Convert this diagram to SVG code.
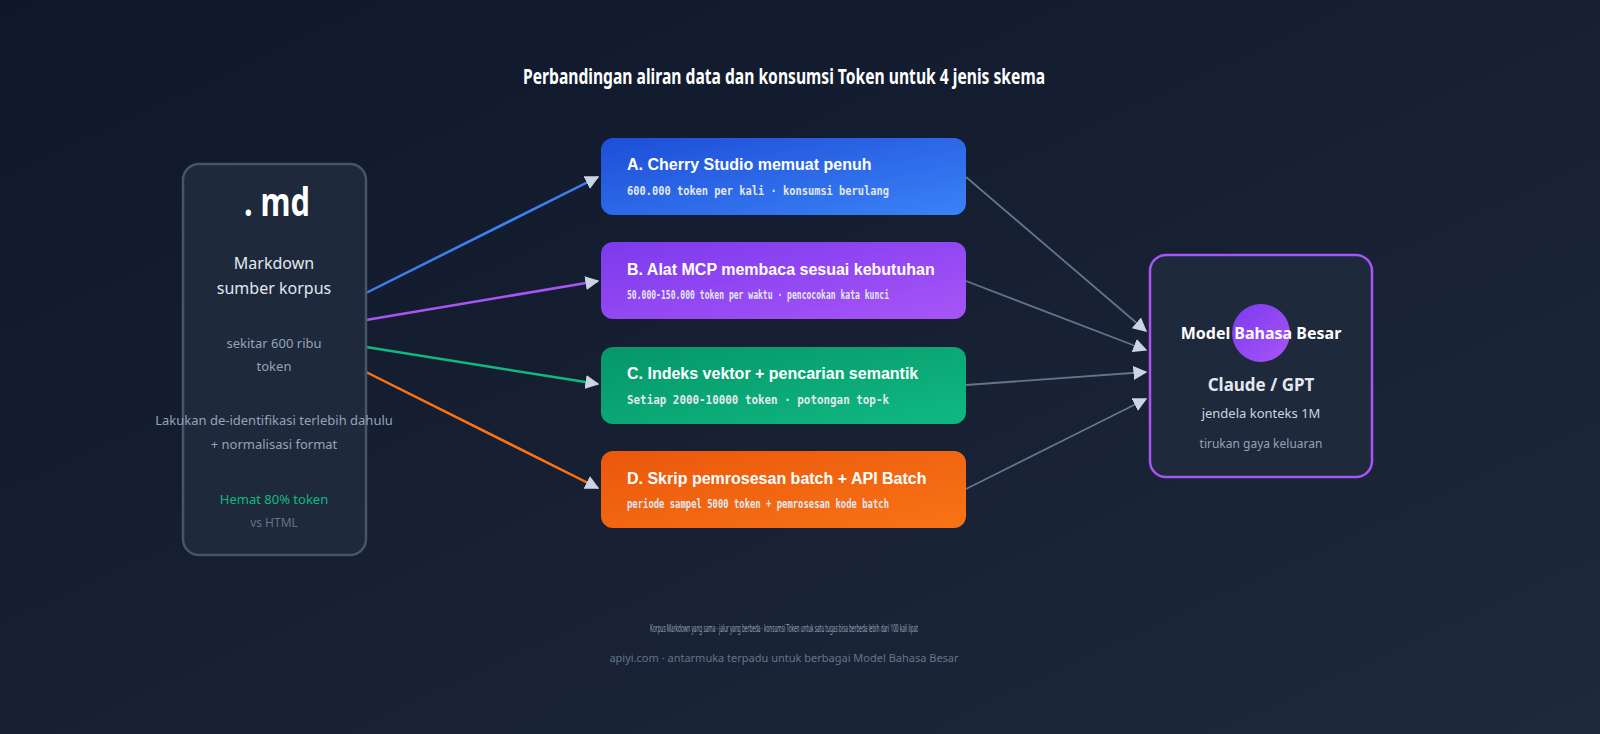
<svg xmlns="http://www.w3.org/2000/svg" width="1600" height="734" viewBox="0 0 1600 734">
<defs>
<linearGradient id="bg" x1="0" y1="0" x2="1" y2="1"><stop offset="0" stop-color="#0f172a"/><stop offset="1" stop-color="#1e293b"/></linearGradient>
<linearGradient id="ga" x1="0" y1="0" x2="1" y2="1"><stop offset="0" stop-color="#1d4ed8"/><stop offset="1" stop-color="#3b82f6"/></linearGradient>
<linearGradient id="gb" x1="0" y1="0" x2="1" y2="1"><stop offset="0" stop-color="#7c3aed"/><stop offset="1" stop-color="#a855f7"/></linearGradient>
<linearGradient id="gc" x1="0" y1="0" x2="1" y2="1"><stop offset="0" stop-color="#059669"/><stop offset="1" stop-color="#10b981"/></linearGradient>
<linearGradient id="gd" x1="0" y1="0" x2="1" y2="1"><stop offset="0" stop-color="#ea580c"/><stop offset="1" stop-color="#f97316"/></linearGradient>
<linearGradient id="gp" x1="0" y1="0" x2="1" y2="1"><stop offset="0" stop-color="#7c3aed"/><stop offset="1" stop-color="#a855f7"/></linearGradient>
<marker id="ah2" viewBox="0 0 10 10" refX="9" refY="5" markerWidth="14" markerHeight="14" orient="auto" markerUnits="userSpaceOnUse"><path d="M0,0 L10,5 L0,10 z" fill="#cbd5e1"/></marker>
</defs>
<style>
text{font-family:"Noto Sans","Liberation Sans",sans-serif}
.bt{font-family:"Liberation Sans",sans-serif;font-weight:bold;font-size:16px;fill:#fff}
.mono{font-family:"DejaVu Sans Mono","Liberation Mono",monospace;font-size:12px;font-weight:bold;fill:#e2e8f0}
.c{text-anchor:middle}
</style>
<rect width="1600" height="734" fill="url(#bg)"/>
<text x="784" y="84" class="c" font-family="Liberation Sans" font-weight="bold" font-size="22" fill="#fff" textLength="522" lengthAdjust="spacingAndGlyphs">Perbandingan aliran data dan konsumsi Token untuk 4 jenis skema</text>
<g id="connectors" fill="none" stroke-width="2.5">
<line x1="366" y1="293" x2="598" y2="177" stroke="#3b82f6" marker-end="url(#ah2)"/>
<line x1="366" y1="320" x2="598" y2="281" stroke="#a855f7" marker-end="url(#ah2)"/>
<line x1="366" y1="347" x2="598" y2="384" stroke="#10b981" marker-end="url(#ah2)"/>
<line x1="366" y1="372" x2="598" y2="488" stroke="#f97316" marker-end="url(#ah2)"/>
<g stroke="#64748b" stroke-width="1.8">
<line x1="966" y1="177" x2="1146" y2="331" marker-end="url(#ah2)"/>
<line x1="966" y1="281" x2="1146" y2="350" marker-end="url(#ah2)"/>
<line x1="966" y1="385" x2="1146" y2="372" marker-end="url(#ah2)"/>
<line x1="966" y1="489" x2="1146" y2="399" marker-end="url(#ah2)"/>
</g>
</g>
<g id="source">
<rect x="183" y="164" width="183" height="391" rx="16" fill="#1e293b" stroke="#475569" stroke-width="2.5"/>
<text x="277" y="216" class="c" font-family="Liberation Sans" font-weight="bold" font-size="40" fill="#fff" textLength="66" lengthAdjust="spacingAndGlyphs">. md</text>
<text x="274" y="269" class="c" font-size="16" fill="#e2e8f0">Markdown</text>
<text x="274" y="294" class="c" font-size="16" fill="#e2e8f0">sumber korpus</text>
<text x="274" y="348" class="c" font-size="13" fill="#94a3b8">sekitar 600 ribu</text>
<text x="274" y="371" class="c" font-size="13" fill="#94a3b8">token</text>
<text x="274" y="425" class="c" font-size="13" fill="#94a3b8">Lakukan de-identifikasi terlebih dahulu</text>
<text x="274" y="449" class="c" font-size="13" fill="#94a3b8">+ normalisasi format</text>
<text x="274" y="504" class="c" font-size="13" fill="#10b981">Hemat 80% token</text>
<text x="274" y="527" class="c" font-size="12" fill="#64748b">vs HTML</text>
</g>
<g id="nodeA"><rect x="601" y="138" width="365" height="77" rx="12" fill="url(#ga)"/>
<text x="627" y="170" class="bt">A. Cherry Studio memuat penuh</text>
<text x="627" y="195" class="mono" textLength="262" lengthAdjust="spacingAndGlyphs">600.000 token per kali · konsumsi berulang</text></g>
<g id="nodeB"><rect x="601" y="242" width="365" height="77" rx="12" fill="url(#gb)"/>
<text x="627" y="275" class="bt">B. Alat MCP membaca sesuai kebutuhan</text>
<text x="627" y="299" class="mono" textLength="262" lengthAdjust="spacingAndGlyphs">50.000-150.000 token per waktu · pencocokan kata kunci</text></g>
<g id="nodeC"><rect x="601" y="347" width="365" height="77" rx="12" fill="url(#gc)"/>
<text x="627" y="379" class="bt">C. Indeks vektor + pencarian semantik</text>
<text x="627" y="404" class="mono" textLength="262" lengthAdjust="spacingAndGlyphs">Setiap 2000-10000 token · potongan top-k</text></g>
<g id="nodeD"><rect x="601" y="451" width="365" height="77" rx="12" fill="url(#gd)"/>
<text x="627" y="484" class="bt">D. Skrip pemrosesan batch + API Batch</text>
<text x="627" y="508" class="mono" textLength="262" lengthAdjust="spacingAndGlyphs">periode sampel 5000 token + pemrosesan kode batch</text></g>
<g id="llm">
<rect x="1150" y="255" width="222" height="222" rx="16" fill="#1e293b" stroke="#a855f7" stroke-width="2.5"/>
<circle cx="1261" cy="333" r="29" fill="url(#gp)"/>
<text x="1261" y="339" class="c" font-family="Liberation Sans" font-weight="bold" font-size="16" fill="#fff">Model Bahasa Besar</text>
<text x="1261" y="391" class="c" font-family="Liberation Sans" font-size="17" font-weight="bold" fill="#e2e8f0">Claude / GPT</text>
<text x="1261" y="418" class="c" font-size="13" fill="#cbd5e1">jendela konteks 1M</text>
<text x="1261" y="448" class="c" font-size="12" fill="#94a3b8">tirukan gaya keluaran</text>
</g>
<text x="784" y="632" class="c" font-size="10" fill="#94a3b8" textLength="268" lengthAdjust="spacingAndGlyphs">Korpus Markdown yang sama · jalur yang berbeda · konsumsi Token untuk satu tugas bisa berbeda lebih dari 100 kali lipat</text>
<text x="784" y="662" class="c" font-size="11" fill="#64748b">apiyi.com · antarmuka terpadu untuk berbagai Model Bahasa Besar</text>
</svg>
